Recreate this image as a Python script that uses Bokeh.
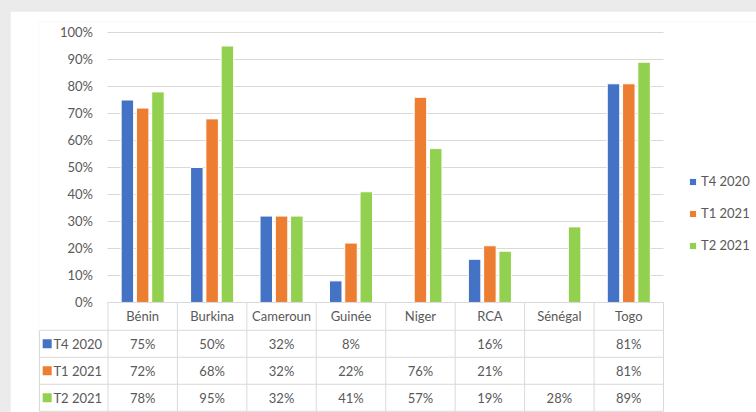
from bokeh.plotting import figure
from bokeh.layouts import column
from bokeh.models import (ColumnDataSource, Range1d, LinearAxis, FixedTicker, Grid,
                          Legend, LegendItem)
from bokeh.core.properties import value
from bokeh.embed import file_html
from bokeh.resources import INLINE

# ---------------- data ----------------
categories = ["Bénin", "Burkina", "Cameroun", "Guinée", "Niger", "RCA", "Sénégal", "Togo"]
series_names = ["T4 2020", "T1 2021", "T2 2021"]
t4_2020 = [75, 50, 32, 8, None, 16, None, 81]
t1_2021 = [72, 68, 32, 22, 76, 21, None, 81]
t2_2021 = [78, 95, 32, 41, 57, 19, 28, 89]
y_ticks = [0, 10, 20, 30, 40, 50, 60, 70, 80, 90, 100]

series = [t4_2020, t1_2021, t2_2021]
colors = ["#4472C4", "#ED7D31", "#92D050"]
offsets = [-0.22, 0.0, 0.22]
FONT = "Lato"
TXT = "#595959"
LINE = "#d9d9d9"

n = len(categories)
header_h = 10.3       # header row height (y units)
row_h = 10.0          # data row height (y units)
x_left = -0.985       # left edge of the table's label column
x_right = n + 1.339   # room on the right for the legend
row_edges = [0, -header_h, -header_h - row_h, -header_h - 2 * row_h, -header_h - 3 * row_h]

p = figure(width=746, height=401, output_backend="svg", toolbar_location=None,
           x_range=Range1d(-1.0, x_right), y_range=Range1d(-40.75, 104.07),
           x_axis_location=None, y_axis_location=None,
           min_border_left=28, min_border_right=0, min_border_top=10, min_border_bottom=0)
p.outline_line_color = None
p.background_fill_color = "white"
p.border_fill_color = "white"
for g in list(p.center):
    if isinstance(g, Grid):
        g.visible = False

# y axis placed at x = 0 (start of categories)
yaxis = LinearAxis(fixed_location=0, ticker=FixedTicker(ticks=y_ticks),
                   axis_line_color=None, major_tick_line_color=None,
                   minor_tick_line_color=None, major_tick_out=0, major_tick_in=0,
                   major_label_standoff=15,
                   major_label_text_font=FONT, major_label_text_font_size="13px",
                   major_label_text_color=TXT)
yaxis.major_label_overrides = {t: f"{t}%" for t in y_ticks}
p.add_layout(yaxis, "left")

if "cross_bounds" in Grid.properties():
    grid = Grid(dimension=1, ticker=yaxis.ticker, grid_line_color=LINE, grid_line_width=1,
                cross_bounds=(0, n))
    p.add_layout(grid)
else:
    p.segment(x0=[0] * len(y_ticks), x1=[n] * len(y_ticks), y0=y_ticks, y1=y_ticks,
              line_color=LINE, line_width=1)

# bars
renderers = []
for k, vals in enumerate(series):
    xs = [i + 0.5 + offsets[k] for i, v in enumerate(vals) if v is not None]
    tops = [v for v in vals if v is not None]
    src = ColumnDataSource(dict(x=xs, top=tops))
    r = p.vbar(x="x", top="top", bottom=0, width=0.18, source=src,
               fill_color=colors[k], line_color="white", line_width=1)
    renderers.append(r)

# data table lines
hx0, hx1, hy = [0], [n], [0]
for e in row_edges[1:]:
    hx0.append(x_left); hx1.append(n); hy.append(e)
p.segment(x0=hx0, x1=hx1, y0=hy, y1=hy, line_color=LINE, line_width=1)
vx = list(range(0, n + 1)) + [x_left]
vy0 = [0] * (n + 1) + [row_edges[1]]
vy1 = [row_edges[-1]] * (n + 2)
p.segment(x0=vx, x1=vx, y0=vy0, y1=vy1, line_color=LINE, line_width=1)

# header row: category names
p.text(x=[i + 0.5 for i in range(n)], y=[(row_edges[0] + row_edges[1]) / 2] * n,
       text=categories, text_align="center", text_baseline="middle",
       text_font=value(FONT), text_font_size="13px", text_color=TXT)

# value rows
for k, vals in enumerate(series):
    yc = (row_edges[k + 1] + row_edges[k + 2]) / 2
    xs = [i + 0.5 for i, v in enumerate(vals) if v is not None]
    labels = [f"{v}%" for v in vals if v is not None]
    p.text(x=xs, y=[yc] * len(xs), text=labels, text_align="center",
           text_baseline="middle", text_font=value(FONT), text_font_size="13px",
           text_color=TXT)
    p.scatter(x=[x_left + 0.11], y=[yc], marker="square", size=9,
              fill_color=colors[k], line_color=None)
    p.text(x=[x_left + 0.2], y=[yc], text=[series_names[k]], text_align="left",
           text_baseline="middle", text_font=value(FONT), text_font_size="13px",
           text_color=TXT)

# legend at the right (inside the widened frame)
legend = Legend(items=[LegendItem(label=series_names[k], renderers=[renderers[k]])
                       for k in range(3)],
                location=(650, 157), orientation="vertical",
                border_line_color=None, background_fill_alpha=0,
                padding=0, margin=0, spacing=12, label_height=20,
                glyph_width=9, glyph_height=9, label_standoff=4,
                label_text_font=FONT, label_text_font_size="13px",
                label_text_color=TXT)
p.add_layout(legend)

p.margin = (11, 0, 0, 10)
page = column(p, styles={"background-color": "#ebebeb"})

open("out.html", "w").write(file_html(page, INLINE))
